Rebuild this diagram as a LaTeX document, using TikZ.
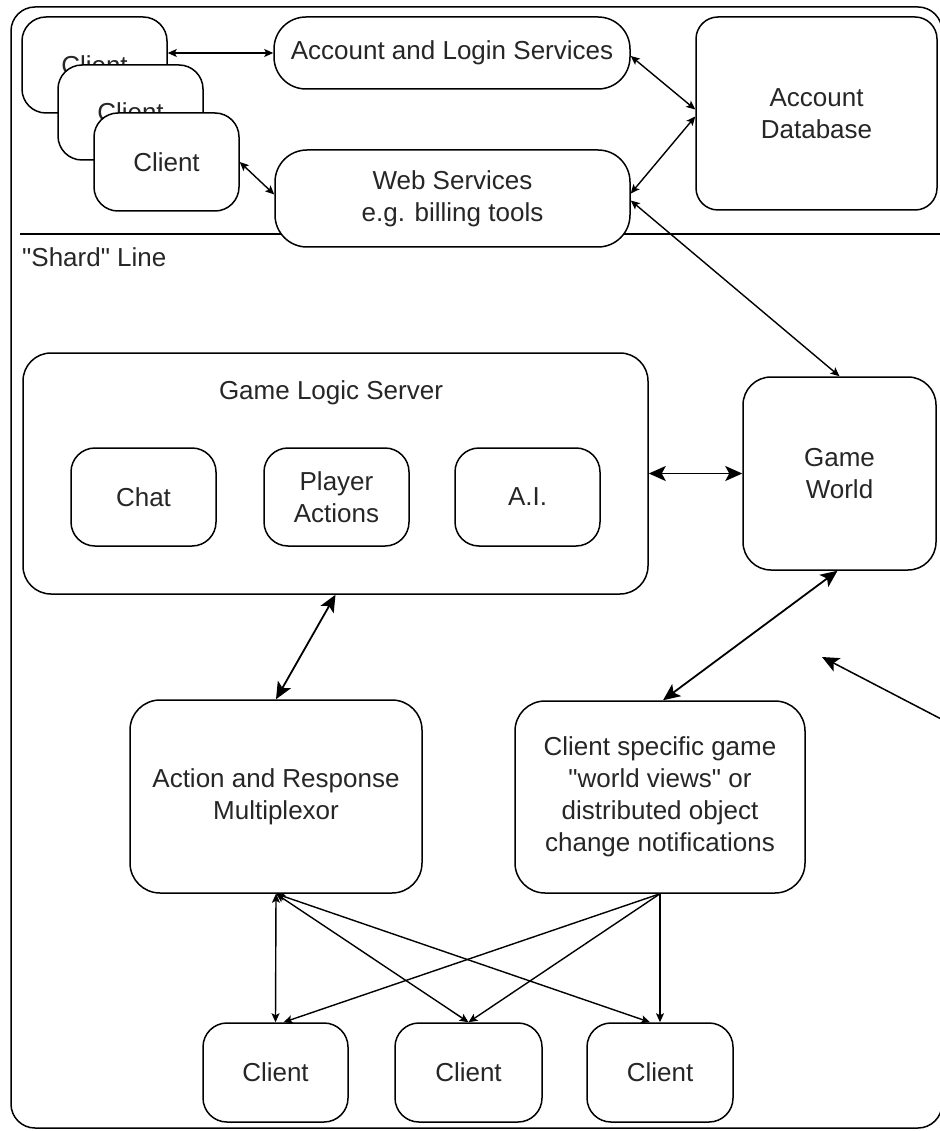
\documentclass[tikz,border=0pt]{standalone}
\usepackage{fontspec}
\setmainfont{Liberation Sans}[Ligatures=TeXOff]
\usetikzlibrary{arrows.meta}
\tikzset{
  box/.style={draw=black, fill=white, line width=1.5pt, rounded corners=24pt, inner sep=0pt,
    align=center, font=\fontsize{26}{32}\selectfont, text=black!85},
  small/.style={line width=1.4pt, {Stealth[length=9pt,width=8pt,inset=2pt]}-{Stealth[length=9pt,width=8pt,inset=2pt]}},
  smallone/.style={line width=1.4pt, -{Stealth[length=9pt,width=8pt,inset=2pt]}},
  big/.style={line width=1.8pt, {Stealth[length=17pt,width=15pt,inset=4pt]}-{Stealth[length=17pt,width=15pt,inset=4pt]}},
  bigone/.style={line width=1.5pt, -{Stealth[length=17pt,width=15pt,inset=4pt]}},
  lbl/.style={font=\fontsize{26}{32}\selectfont, text=black!85, inner sep=0pt}
}
\begin{document}
\begin{tikzpicture}[x=1pt,y=-1pt]
\useasboundingbox (0,0) rectangle (939,1131);
% outer frame
\draw[line width=1.5pt, rounded corners=24pt] (11,7) rectangle (942,1128);
% shard line
\draw[line width=1.5pt] (20,234) -- (942,234);
\node[lbl, anchor=west] (shard) at (22,257) {"Shard" Line};

% top clients
\node[box, minimum width=145pt, minimum height=96pt] (c1) at (94.5,65) {Client};
\node[box, minimum width=145pt, minimum height=95pt] (c2) at (130.5,112.5) {Client};
\node[box, minimum width=145pt, minimum height=98pt] (c3) at (166.5,162) {Client};
% services
\node[box, rounded corners=32pt, minimum width=356pt, minimum height=72pt] (als) at (452,53) {Account and Login Services};
\node[box, rounded corners=32pt, minimum width=355pt, minimum height=97pt] (web) at (452.5,198.5) {Web Services\\e.g. billing tools};
\node[box, rounded corners=22pt, minimum width=241pt, minimum height=193pt] (adb) at (816.5,113.5) {Account\\Database};

% game logic server
\node[box, rounded corners=28pt, minimum width=625pt, minimum height=241pt] (gls) at (335.5,473.5) {};
\node[lbl] (glst) at (331,393) {Game Logic Server};
\node[box, minimum width=145pt, minimum height=98pt] (chat) at (143.5,497) {Chat};
\node[box, minimum width=145pt, minimum height=98pt] (pa) at (336.5,497) {Player\\Actions};
\node[box, minimum width=145pt, minimum height=98pt] (ai) at (527.5,497) {A.I.};
\node[box, rounded corners=28pt, minimum width=193pt, minimum height=193pt] (gw) at (839.5,473.5) {Game\\World};

% middle
\node[box, rounded corners=30pt, minimum width=292pt, minimum height=193pt] (arm) at (276,796.5) {Action and Response\\Multiplexor};
\node[box, rounded corners=30pt, minimum width=290pt, minimum height=192pt] (cs) at (660,797) {Client specific game\\"world views" or\\distributed object\\change notifications};

% bottom clients
\node[box, minimum width=145pt, minimum height=99pt] (ca) at (275.5,1072.5) {Client};
\node[box, minimum width=147pt, minimum height=99pt] (cb) at (468.5,1072.5) {Client};
\node[box, minimum width=146pt, minimum height=99pt] (cc) at (660,1072.5) {Client};

% top connectors
\draw[small] (c1.east |- als.west) -- (als.west);
\draw[small] ([yshift=-3pt]als.east) -- ([yshift=4pt]adb.west);
\draw[small] ([yshift=5pt]web.east) -- ([yshift=-3pt]adb.west);
\draw[small] (c3.east) -- ([yshift=4pt]web.west);
\draw[small] ([yshift=-2pt]web.east) -- (gw.north);

% game connectors
\draw[big] (gls.east) -- (gw.west);
\draw[big] (gls.south) -- (arm.north);
\draw[big] ([xshift=-2pt]gw.south) -- ([xshift=3pt]cs.north);

% free arrow
\coordinate (fs) at (945,721);
\coordinate (ft) at (822,657);
\draw[bigone] (fs) -- (ft);

% bottom fan-out
\draw[small] (arm.south) -- (ca.north);
\draw[small] (arm.south) -- (cb.north);
\draw[small] (arm.south) -- ([xshift=-10pt]cc.north);
\draw[smallone] (cs.south) -- ([xshift=8pt]ca.north);
\draw[smallone] (cs.south) -- (cb.north);
\draw[smallone] (cs.south) -- (cc.north);
\end{tikzpicture}
\end{document}
